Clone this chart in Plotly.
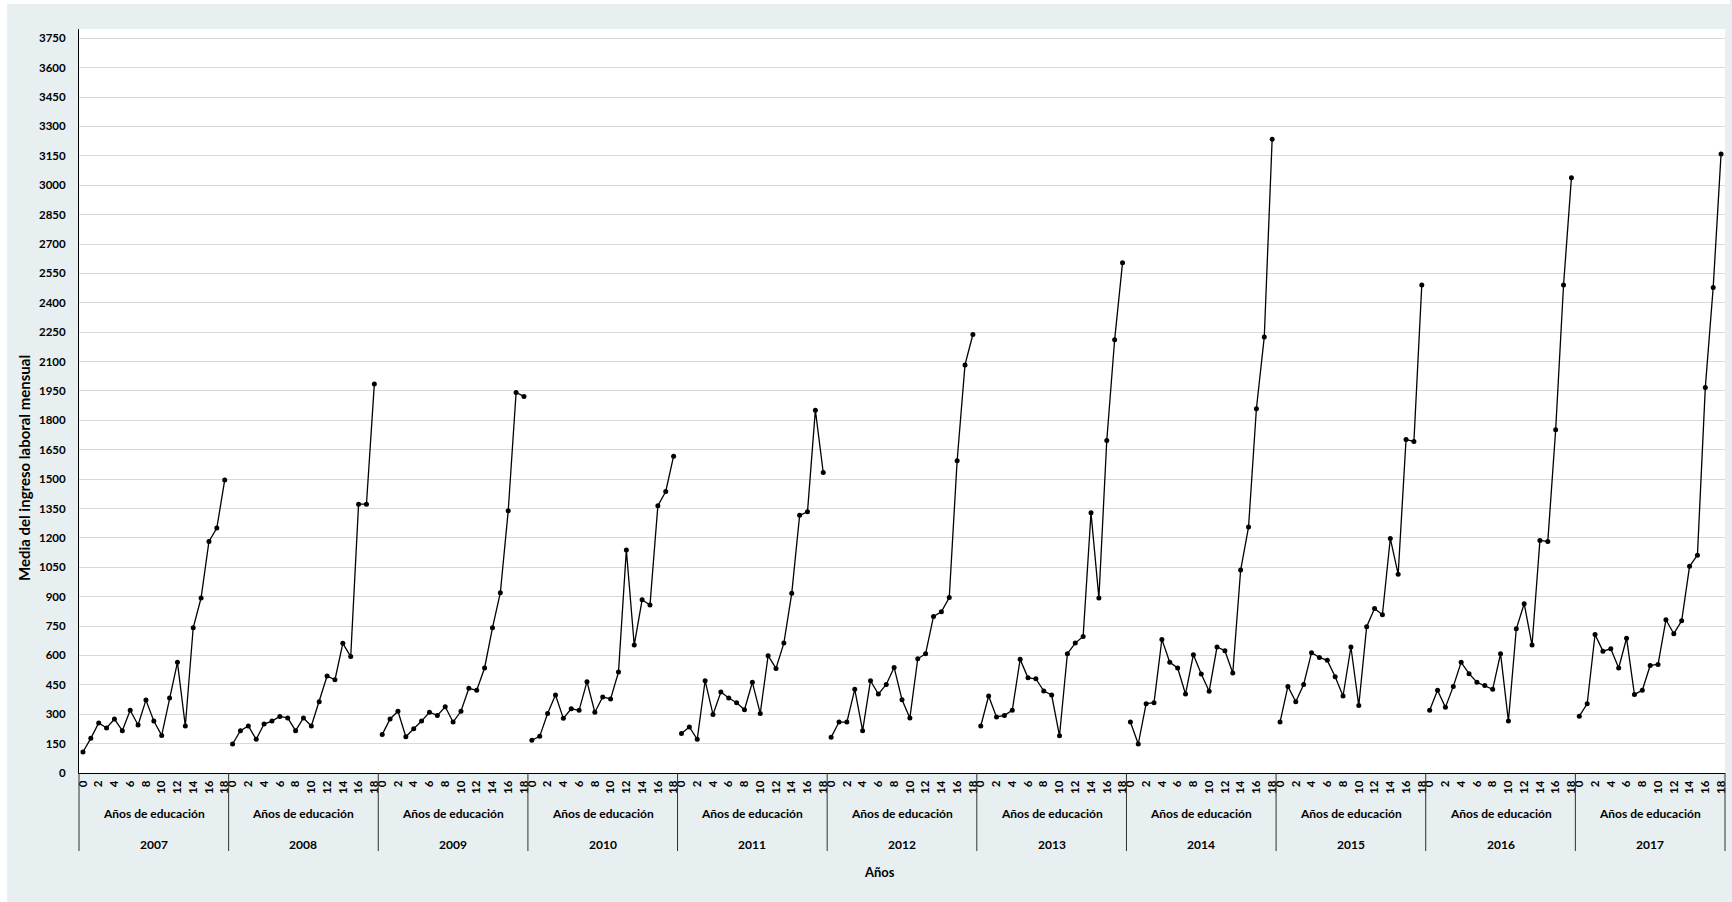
import plotly.graph_objects as go

years = ["2007", "2008", "2009", "2010", "2011", "2012", "2013", "2014", "2015", "2016", "2017"]
edu_years = list(range(19))
edu_tick_labels = [str(v) for v in edu_years]
group_label = "Años de educación"

income_2007 = [107, 177, 255, 230, 275, 216, 320, 245, 372, 265, 192, 383, 565, 240, 741, 893, 1182, 1250, 1495]
income_2008 = [148, 216, 240, 172, 250, 265, 289, 281, 216, 281, 240, 364, 495, 476, 662, 594, 1372, 1372, 1985]
income_2009 = [196, 276, 315, 185, 226, 265, 310, 294, 338, 260, 315, 432, 422, 536, 741, 920, 1338, 1942, 1922]
income_2010 = [167, 187, 304, 398, 279, 328, 320, 466, 310, 388, 378, 515, 1138, 653, 884, 857, 1364, 1437, 1617]
income_2011 = [201, 235, 172, 471, 299, 413, 383, 359, 323, 463, 304, 599, 534, 663, 917, 1315, 1333, 1852, 1534]
income_2012 = [182, 260, 260, 427, 216, 471, 403, 452, 539, 374, 281, 583, 609, 799, 823, 896, 1594, 2083, 2238]
income_2013 = [240, 393, 286, 294, 320, 580, 486, 481, 418, 398, 190, 609, 663, 697, 1328, 893, 1697, 2211, 2604]
income_2014 = [260, 148, 354, 359, 682, 565, 536, 403, 604, 505, 417, 643, 624, 510, 1036, 1255, 1859, 2226, 3235]
income_2015 = [260, 442, 364, 452, 614, 590, 575, 491, 393, 643, 344, 747, 840, 808, 1197, 1015, 1702, 1692, 2491]
income_2016 = [320, 422, 335, 442, 565, 507, 463, 447, 427, 609, 265, 736, 864, 653, 1187, 1182, 1752, 2491, 3038]
income_2017 = [290, 353, 707, 622, 634, 536, 688, 401, 422, 549, 554, 782, 711, 777, 1055, 1112, 1967, 2478, 3160]

series = [income_2007, income_2008, income_2009, income_2010, income_2011, income_2012,
          income_2013, income_2014, income_2015, income_2016, income_2017]

y_tick_values = list(range(0, 3751, 150))

# ---- layout geometry (pixels) ----
W, H = 1732, 902
ML, MR, MT, MB = 79, 5, 29, 129
PW, PH = W - ML - MR, H - MT - MB
n_per = len(edu_years)
n_tot = n_per * len(years)

FONT = "Lato, 'Open Sans', Arial, sans-serif"
BG = "#E8EFF1"

def px_x(px):
    return (px - ML) / PW

def px_y(py):
    return (H - MB - py) / PH

fig = go.Figure()
tickvals, ticktext = [], []
for g, (yr, vals) in enumerate(zip(years, series)):
    xs = [g * n_per + i for i in edu_years]
    fig.add_trace(go.Scatter(
        x=xs, y=vals, mode="lines+markers", name=yr, showlegend=False,
        line=dict(color="#000000", width=1.3),
        marker=dict(color="#000000", size=5),
    ))
    for i in edu_years:
        if i % 2 == 0:
            tickvals.append(g * n_per + i)
            ticktext.append(edu_tick_labels[i])

annotations = []
shapes = []
for g, yr in enumerate(years):
    center = g * n_per + (n_per - 1) / 2
    annotations.append(dict(x=center, xref="x", y=0, yref="paper", yshift=-40,
                            text=group_label, showarrow=False, yanchor="middle",
                            font=dict(family=FONT, size=12, color="#000000")))
    annotations.append(dict(x=center, xref="x", y=0, yref="paper", yshift=-71,
                            text=yr, showarrow=False, yanchor="middle",
                            font=dict(family=FONT, size=12, color="#000000")))
for g in range(len(years) + 1):
    xp = g * n_per / n_tot
    shapes.append(dict(type="line", xref="paper", yref="paper", x0=xp, x1=xp,
                       y0=0, y1=px_y(851), line=dict(color="#303030", width=1)))

# white page strips at top/left
shapes.append(dict(type="rect", xref="paper", yref="paper", layer="below",
                   x0=px_x(0), x1=px_x(W), y0=px_y(4), y1=px_y(0),
                   fillcolor="#FFFFFF", line=dict(width=0)))
shapes.append(dict(type="rect", xref="paper", yref="paper", layer="below",
                   x0=px_x(0), x1=px_x(7), y0=px_y(H), y1=px_y(0),
                   fillcolor="#FFFFFF", line=dict(width=0)))

annotations.append(dict(x=px_x(24), y=px_y(468), xref="paper", yref="paper",
                        text="<b>Media del ingreso laboral mensual</b>", textangle=-90,
                        showarrow=False, xanchor="center", yanchor="middle",
                        font=dict(family="'Liberation Sans Narrow', 'Arial Narrow', " + FONT, size=15, color="#000000")))
annotations.append(dict(x=px_x(880), y=px_y(872), xref="paper", yref="paper",
                        text="<b>Años</b>", showarrow=False, xanchor="center", yanchor="middle",
                        font=dict(family=FONT, size=13, color="#000000")))

y_top = 3750 + (38.3 - MT) / 29.4 * 150

fig.update_layout(
    width=W, height=H,
    margin=dict(l=ML, r=MR, t=MT, b=MB, pad=0),
    paper_bgcolor=BG, plot_bgcolor="#FFFFFF",
    font=dict(family=FONT, size=11, color="#000000", weight="bold"),
    xaxis=dict(range=[-0.5, n_tot - 0.5], tickmode="array", tickvals=tickvals, ticktext=ticktext,
               tickangle=-90, showgrid=False, zeroline=False, showline=True,
               linecolor="#000000", linewidth=1, ticks="", ticklabelstandoff=2,
               tickfont=dict(family=FONT, size=11.5, color="#000000", weight="bold")),
    yaxis=dict(range=[0, y_top], tickmode="array", tickvals=y_tick_values,
               showgrid=True, gridcolor="#D9D9D9", gridwidth=1, zeroline=False,
               showline=True, linecolor="#000000", linewidth=1, ticks="",
               ticklabelstandoff=10,
               tickfont=dict(family=FONT, size=11.5, color="#000000", weight="bold")),
    annotations=annotations, shapes=shapes,
)

fig.write_html("out.html")
